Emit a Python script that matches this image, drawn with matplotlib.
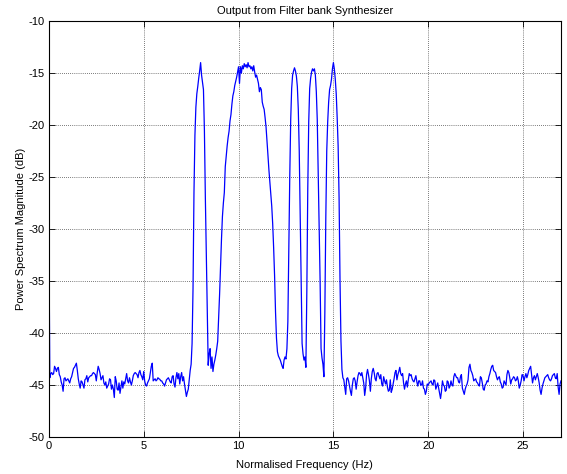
import numpy as np
import matplotlib
matplotlib.use("Agg")
import matplotlib.pyplot as plt

# sample grid of the spectrum (Hz)
freq_start = 0.0
freq_step = 0.05

# power spectrum magnitude (dB), one row per Hz (20 samples each), last value at 27 Hz
power_db = [
    -30.0, -44.3, -43.9, -43.8, -44.0, -43.9, -43.2, -43.4, -43.7, -43.4, -43.3, -44.0, -44.2, -44.7, -45.0, -45.6, -44.4, -44.3, -44.6, -44.5,
    -44.4, -44.6, -44.8, -44.4, -44.2, -43.8, -43.4, -43.3, -43.1, -42.9, -43.6, -44.4, -44.9, -45.3, -44.6, -44.7, -45.0, -45.3, -44.5, -44.4,
    -44.1, -44.7, -44.3, -44.2, -44.1, -44.1, -43.9, -43.8, -43.9, -44.0, -44.6, -43.8, -43.2, -43.5, -43.9, -44.5, -44.3, -44.1, -44.8, -45.0,
    -44.7, -45.3, -45.1, -44.9, -44.4, -44.5, -45.4, -45.0, -45.4, -46.2, -44.2, -44.6, -45.4, -45.5, -44.8, -45.8, -45.2, -44.6, -45.3, -44.7,
    -44.9, -44.4, -43.9, -44.6, -44.8, -44.3, -44.7, -45.0, -44.6, -44.1, -43.9, -43.8, -43.9, -44.0, -44.3, -43.8, -43.6, -44.0, -44.2, -44.5,
    -43.7, -44.6, -45.0, -45.1, -44.8, -44.6, -44.4, -43.8, -43.2, -42.9, -44.6, -44.5, -44.4, -44.6, -44.5, -44.3, -44.4, -44.45, -44.6, -44.6,
    -44.8, -44.9, -45.1, -44.8, -44.5, -44.4, -44.3, -44.5, -44.7, -44.8, -44.2, -44.1, -44.9, -45.2, -44.3, -43.8, -44.4, -43.9, -44.9, -44.2,
    -43.8, -44.6, -44.2, -44.9, -45.5, -46.1, -45.7, -45.4, -44.5, -43.6, -43.0, -41.0, -35.7, -26.5, -21.0, -18.3, -17.0, -16.3, -15.5, -14.8,
    -14.0, -15.2, -15.9, -16.6, -20.5, -27.0, -32.5, -38.5, -43.1, -42.0, -41.5, -43.4, -42.3, -43.7, -43.0, -42.6, -42.1, -41.5, -40.8, -38.5,
    -36.3, -33.5, -31.0, -28.8, -27.5, -26.5, -24.0, -23.0, -22.0, -21.2, -20.6, -19.6, -19.0, -18.0, -17.2, -16.8, -16.2, -15.8, -15.4, -14.9,
    -14.4, -16.0, -14.4, -15.0, -14.3, -14.6, -14.1, -14.4, -14.2, -14.5, -14.0, -14.4, -14.3, -14.6, -14.4, -14.8, -14.3, -14.9, -15.4, -15.2,
    -15.6, -16.0, -16.8, -16.4, -16.6, -17.8, -18.2, -18.5, -19.3, -20.2, -21.5, -22.9, -24.3, -25.5, -26.8, -27.8, -29.5, -31.8, -34.5, -38.0,
    -40.5, -41.8, -42.2, -42.4, -42.6, -42.9, -43.2, -43.4, -42.6, -42.3, -42.5, -41.5, -38.9, -32.0, -25.0, -19.5, -16.5, -15.2, -14.8, -14.5,
    -14.8, -15.3, -16.3, -18.5, -22.5, -28.5, -34.5, -41.0, -42.0, -42.6, -42.3, -43.3, -36.0, -26.1, -19.7, -16.5, -15.5, -14.9, -14.6, -14.8,
    -14.6, -15.2, -16.8, -19.5, -24.5, -30.0, -35.0, -41.5, -42.4, -43.0, -44.2, -38.0, -29.0, -22.5, -19.7, -17.8, -16.6, -16.2, -15.6, -14.6,
    -14.0, -14.6, -15.6, -17.0, -19.3, -22.0, -27.0, -35.0, -40.8, -43.5, -44.3, -44.5, -45.2, -45.9, -44.4, -44.3, -44.6, -45.1, -45.6, -46.0,
    -45.0, -44.4, -44.3, -44.6, -45.4, -44.7, -44.1, -43.8, -43.9, -44.1, -43.8, -44.3, -44.8, -46.0, -45.3, -44.0, -43.5, -44.0, -44.6, -45.6,
    -44.4, -43.7, -43.4, -43.8, -44.4, -44.6, -43.9, -43.8, -44.1, -44.4, -44.0, -44.9, -45.1, -44.2, -44.6, -44.9, -44.5, -45.2, -45.6, -45.5,
    -44.5, -45.7, -45.4, -44.9, -44.4, -43.8, -43.6, -44.5, -44.0, -43.7, -43.3, -43.9, -44.1, -43.9, -44.8, -45.4, -44.9, -44.6, -45.2, -44.5,
    -43.9, -44.1, -44.0, -44.4, -44.6, -44.7, -44.4, -44.1, -44.7, -45.1, -44.6, -44.6, -45.0, -45.0, -44.6, -45.3, -45.4, -45.9, -45.6, -44.9,
    -45.0, -44.8, -44.7, -44.6, -44.9, -45.0, -44.5, -44.6, -45.4, -45.1, -44.8, -45.3, -45.8, -46.3, -45.6, -44.6, -45.0, -45.1, -45.6, -45.5,
    -44.6, -44.7, -45.3, -45.1, -44.6, -45.0, -45.1, -44.2, -43.9, -44.1, -44.3, -44.3, -44.7, -44.8, -44.2, -44.0, -45.3, -45.6, -45.9, -45.4,
    -45.1, -44.9, -44.5, -43.3, -43.0, -43.6, -43.8, -44.1, -44.6, -44.5, -44.4, -44.7, -44.8, -45.0, -45.1, -44.2, -44.3, -44.8, -45.4, -45.5,
    -45.0, -44.9, -44.6, -44.7, -44.2, -43.9, -43.5, -43.2, -43.1, -43.6, -43.7, -43.8, -44.2, -44.5, -44.3, -44.2, -44.7, -44.9, -45.3, -45.2,
    -44.6, -44.8, -45.0, -44.0, -43.6, -43.8, -44.3, -44.9, -44.5, -44.4, -44.2, -44.3, -44.6, -44.5, -44.2, -44.6, -45.3, -45.0, -44.6, -44.0,
    -44.1, -44.6, -44.2, -43.9, -44.3, -44.0, -43.6, -43.4, -43.2, -44.0, -44.8, -44.3, -44.1, -44.5, -44.2, -43.9, -44.3, -44.8, -45.5, -45.9,
    -45.3, -44.9, -44.6, -44.3, -44.2, -44.1, -44.0, -44.3, -44.5, -44.6, -44.4, -44.1, -44.0, -43.9, -44.3, -44.4, -43.9, -45.2, -45.9, -44.9,
    -44.6,
]

x_ticks = [0, 5, 10, 15, 20, 25]
y_ticks = [-50, -45, -40, -35, -30, -25, -20, -15, -10]
x_limits = (0, 27)
y_limits = (-50, -10)
title_text = "Output from Filter bank Synthesizer"
x_label = "Normalised Frequency (Hz)"
y_label = "Power Spectrum Magnitude (dB)"

freq_hz = freq_start + freq_step * np.arange(len(power_db))

plt.rcParams['font.family'] = ['Liberation Sans', 'DejaVu Sans']
plt.rcParams['font.size'] = 8
plt.rcParams['axes.unicode_minus'] = False

fig = plt.figure(figsize=(5.67, 4.74), dpi=100, facecolor='white')
ax = fig.add_axes([0.0862, 0.078, 0.9032, 0.8777])
ax.plot(freq_hz, power_db, color=(0, 0, 1), linewidth=0.9)
ax.set_xlim(*x_limits)
ax.set_ylim(*y_limits)
ax.set_xticks(x_ticks)
ax.set_yticks(y_ticks)
ax.grid(True, color='black', linestyle=(0, (1, 2)), linewidth=0.5)
ax.tick_params(direction='in', top=True, right=True, length=4, width=0.6, labelsize=8, pad=3)
for s in ax.spines.values():
    s.set_linewidth(0.8)
ax.set_title(title_text, fontsize=8, pad=5)
ax.set_xlabel(x_label, fontsize=8, labelpad=6)
ax.set_ylabel(y_label, fontsize=8, labelpad=2)
fig.savefig("out.png", dpi=100, facecolor='white')
